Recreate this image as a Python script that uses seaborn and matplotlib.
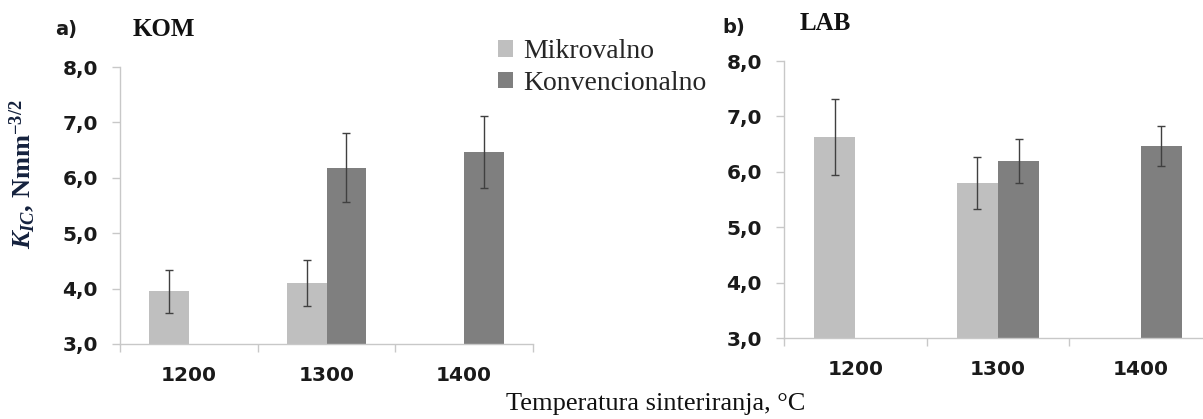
import pandas as pd
import matplotlib
matplotlib.use("Agg")
import matplotlib.pyplot as plt
import seaborn as sns
from matplotlib.patches import Patch
from matplotlib.font_manager import FontProperties
from matplotlib.ticker import FixedLocator

# data (K_IC, Nmm^-3/2)
TEMPS = ["1200", "1300", "1400"]
METHODS = ["Mikrovalno", "Konvencionalno"]

kom_temp = ["1200", "1300", "1300", "1400"]
kom_method = ["Mikrovalno", "Mikrovalno", "Konvencionalno", "Konvencionalno"]
kom_kic = [3.95, 4.10, 6.18, 6.47]
kom_err = [0.39, 0.41, 0.62, 0.65]

lab_temp = ["1200", "1300", "1300", "1400"]
lab_method = ["Mikrovalno", "Mikrovalno", "Konvencionalno", "Konvencionalno"]
lab_kic = [6.63, 5.80, 6.19, 6.47]
lab_err = [0.68, 0.47, 0.40, 0.36]

COLORS = {"Mikrovalno": "#bfbfbf", "Konvencionalno": "#7f7f7f"}
SPINE = "#c8c8c8"
TXT = "#1a1a1a"

sns.set_style("white")
plt.rcParams["font.family"] = ["DejaVu Sans"]
plt.rcParams["mathtext.fontset"] = "custom"
plt.rcParams["mathtext.rm"] = "Liberation Serif:bold"
plt.rcParams["mathtext.it"] = "Liberation Serif:italic:bold"
plt.rcParams["mathtext.bf"] = "Liberation Serif:bold"

W, H = 1203, 419
fig = plt.figure(figsize=(W / 100, H / 100), dpi=100)


def px_axes(x0, x1, ytop, ybot):
    return fig.add_axes([x0 / W, 1 - ybot / H, (x1 - x0) / W, (ybot - ytop) / H])


def panel(ax, temp, method, kic, err):
    df = pd.DataFrame({"temp": temp, "method": method, "kic": kic, "err": err})
    sns.barplot(data=df, x="temp", y="kic", hue="method", order=TEMPS,
                hue_order=METHODS, palette=COLORS, saturation=1, width=0.58,
                errorbar=None, linewidth=0, legend=False, ax=ax)
    lookup = {(t, m): e for t, m, e in zip(temp, method, err)}
    for p in ax.patches:
        cx = p.get_x() + p.get_width() / 2
        cat = int(round(cx))
        m = METHODS[0] if cx < cat else METHODS[1]
        e = lookup.get((TEMPS[cat], m))
        if e is None:
            continue
        ax.errorbar(cx, p.get_height(), yerr=e, color="#404040", elinewidth=1,
                    capsize=2.6, capthick=1, zorder=5)

    ax.set_ylim(3, 8)
    ax.set_xlim(-0.5, 2.5)
    ax.set_yticks([3, 4, 5, 6, 7, 8])
    ax.set_yticklabels([f"{v},0" for v in range(3, 9)])
    ax.xaxis.set_minor_locator(FixedLocator([-0.5, 0.5, 1.5, 2.5]))
    ax.tick_params(axis="x", which="major", length=0, pad=16,
                   labelsize=14.5, labelcolor=TXT)
    ax.tick_params(axis="x", which="minor", bottom=True, length=6,
                   width=1, color=SPINE, direction="out")
    ax.tick_params(axis="y", left=True, length=6, width=1, color=SPINE,
                   pad=10, labelsize=14.5, labelcolor=TXT)
    for lab in ax.get_xticklabels() + ax.get_yticklabels():
        lab.set_fontweight("bold")
    ax.spines[["top", "right"]].set_visible(False)
    for s in ["left", "bottom"]:
        ax.spines[s].set_color(SPINE)
        ax.spines[s].set_linewidth(1)
    ax.set_xlabel("")
    ax.set_ylabel("")


axL = px_axes(120, 533, 67, 344)
panel(axL, kom_temp, kom_method, kom_kic, kom_err)
axR = px_axes(784, 1212, 61, 338)
panel(axR, lab_temp, lab_method, lab_kic, lab_err)

# panel labels
fig.text(55 / W, 1 - 29 / H, "a)", fontsize=14, fontweight="bold",
         color=TXT, va="center")
fig.text(133 / W, 1 - 30 / H, "KOM", fontsize=18, fontweight="bold",
         family="Liberation Serif", color="#111111", va="center")
fig.text(722 / W, 1 - 27 / H, "b)", fontsize=14, fontweight="bold",
         color=TXT, va="center")
fig.text(800 / W, 1 - 23 / H, "LAB", fontsize=18, fontweight="bold",
         family="Liberation Serif", color="#111111", va="center")

# y label
fig.text(22 / W, 1 - 174 / H, r"$K_{IC}$, Nmm$^{-3/2}$", rotation=90,
         fontsize=19, fontweight="bold", family="Liberation Serif",
         color="#14213d", ha="center", va="center")

# x label
fig.text(656 / W, 1 - 404 / H, "Temperatura sinteriranja, °C", fontsize=19,
         family="Liberation Serif", color="#111111", ha="center", va="center")

# legend
handles = [Patch(facecolor=COLORS[m], edgecolor="none", label=m) for m in METHODS]
fig.legend(handles=handles, loc="upper left", bbox_to_anchor=(498 / W, 1 - 39 / H),
           frameon=False, borderpad=0, borderaxespad=0, handlelength=0.55,
           handleheight=0.55, handletextpad=0.35, labelspacing=0.25,
           prop=FontProperties(family="Liberation Serif", size=20))

fig.savefig("out.png", dpi=100)
